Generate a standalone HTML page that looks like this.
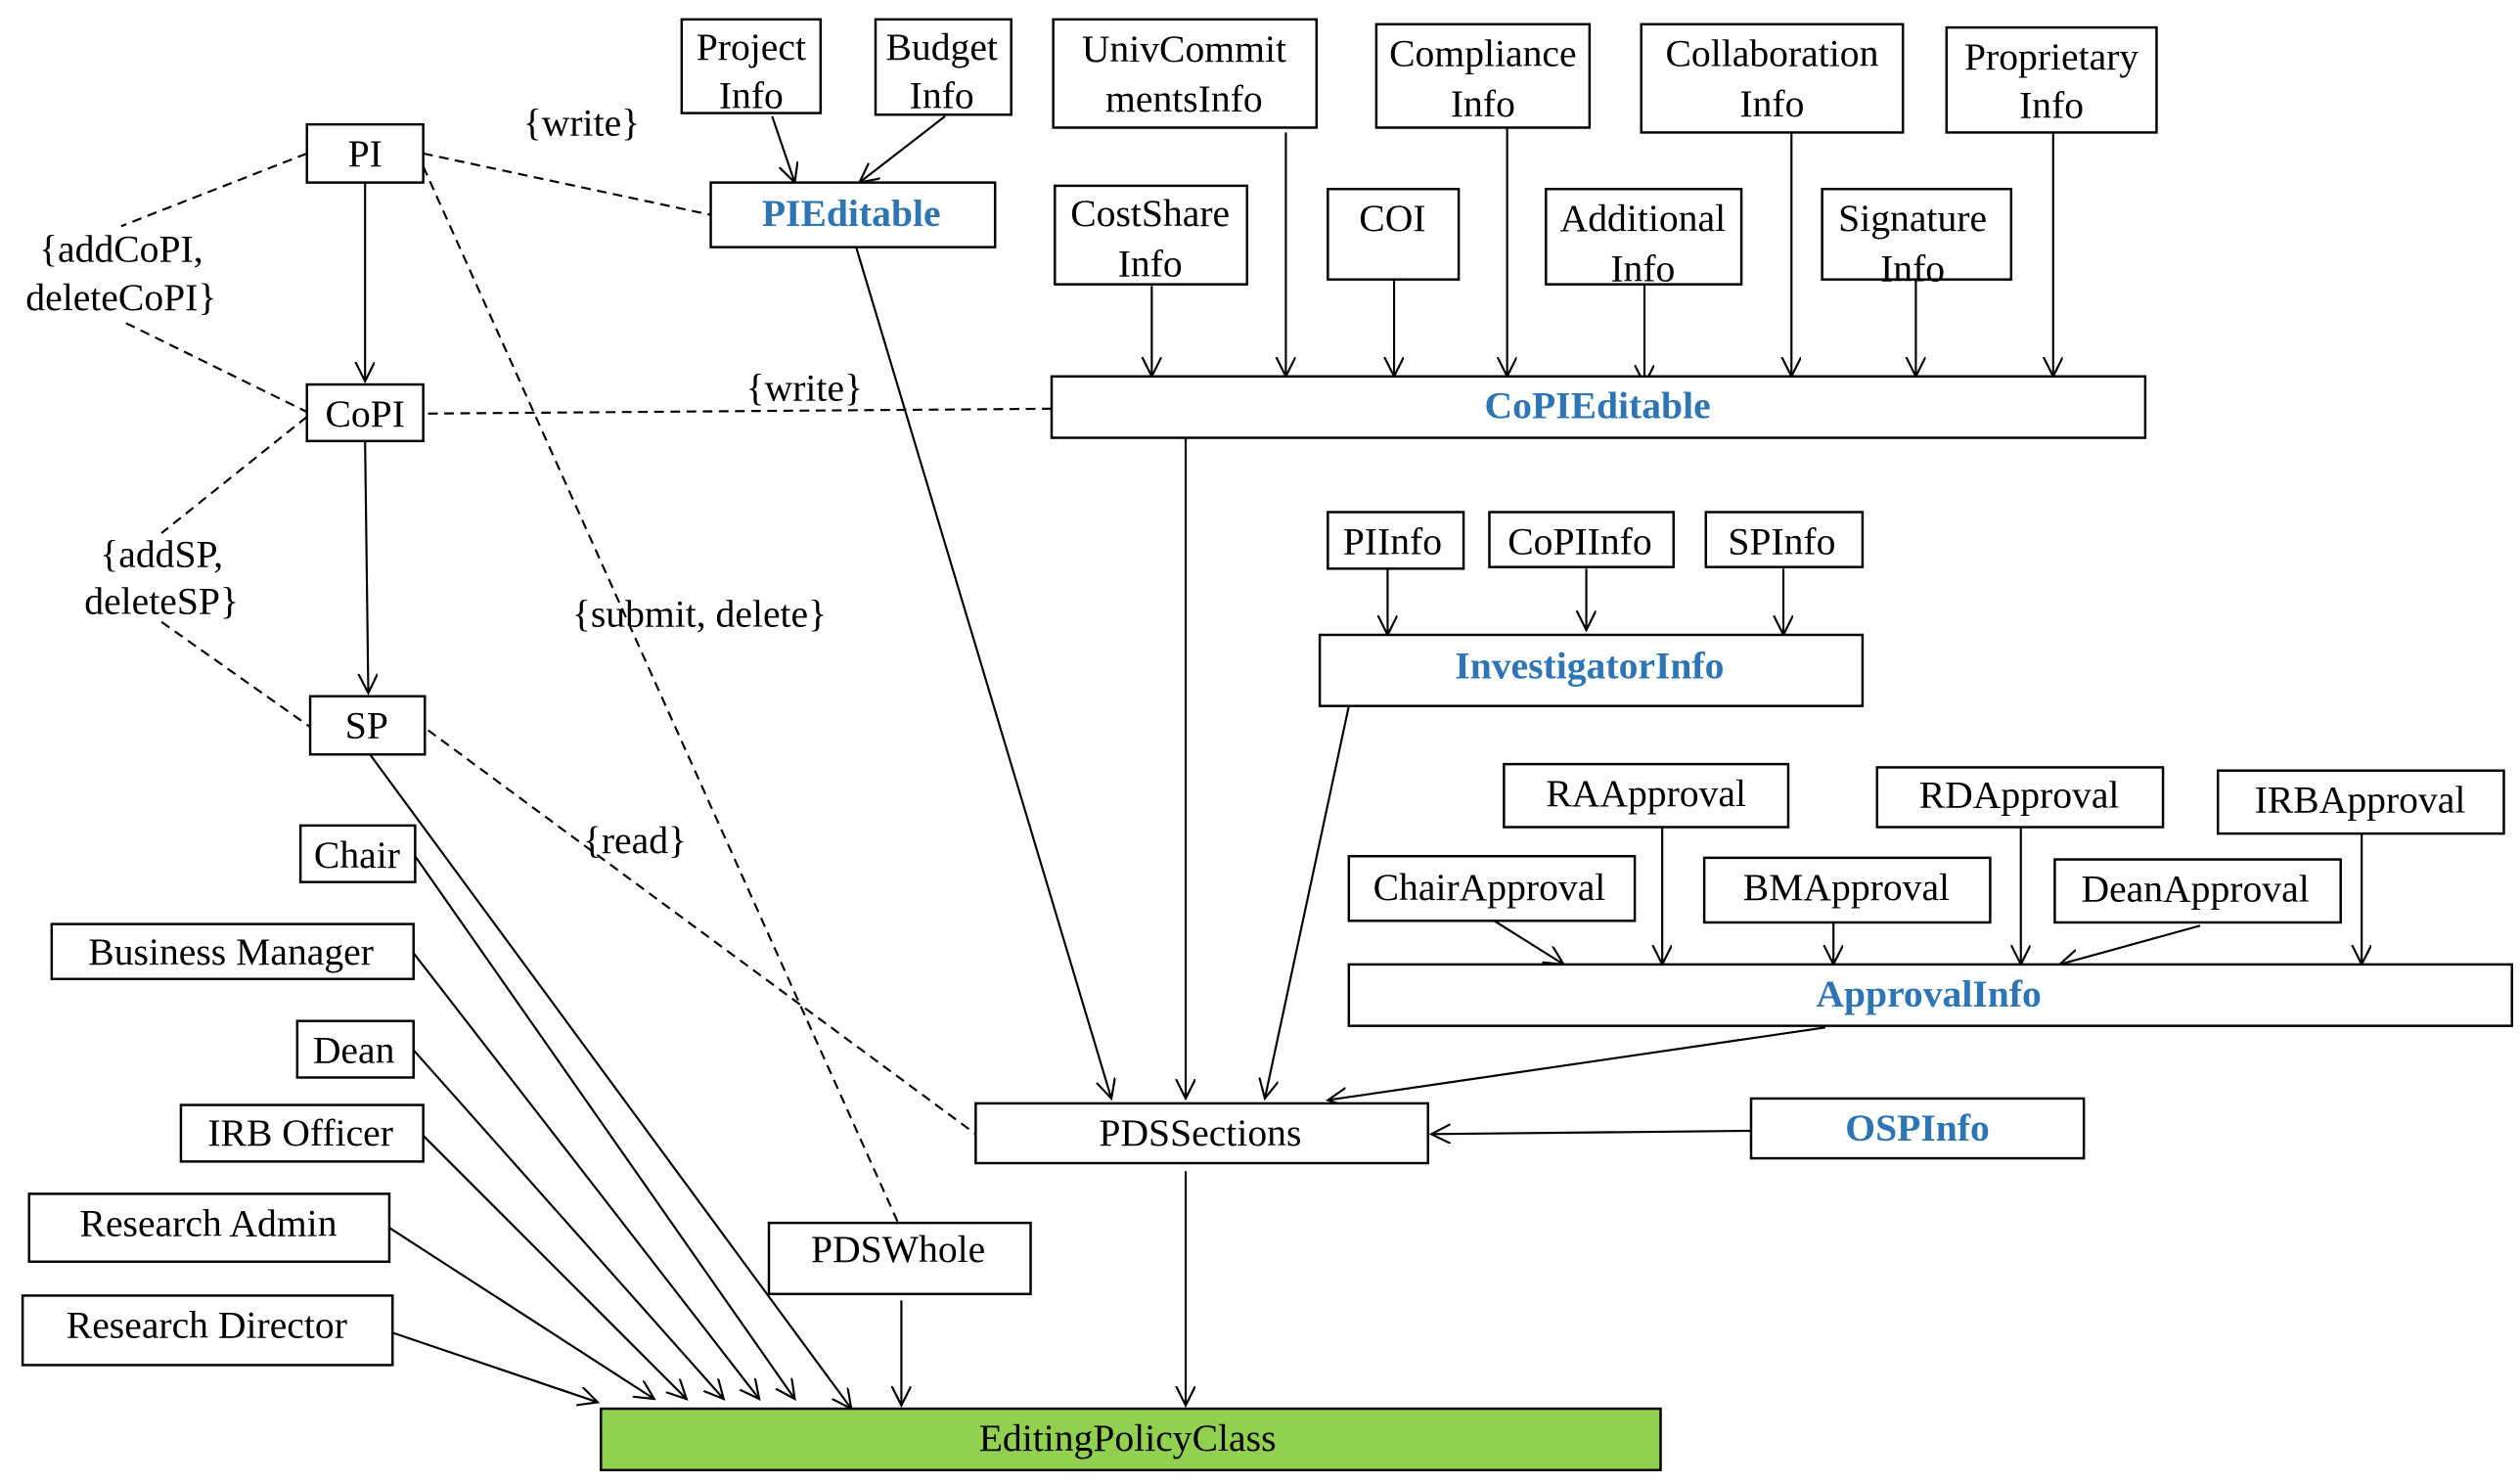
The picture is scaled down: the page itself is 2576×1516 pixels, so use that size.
<!DOCTYPE html>
<html><head><meta charset="utf-8"><style>
html,body{margin:0;padding:0;background:#fff;}
svg{display:block;}
text{font-family:"Liberation Serif",serif;font-size:24px;fill:#000;}
.b{fill:#2e75b6;font-weight:bold;}
rect{fill:#fff;stroke:#000;stroke-width:1.5;}
line{stroke:#000;stroke-width:1.3;}
.d{stroke-dasharray:6,4;}
</style></head><body>
<svg width="2576" height="1516" viewBox="0 0 1560 918" preserveAspectRatio="none" xmlns="http://www.w3.org/2000/svg">
<defs><marker id="a" markerWidth="14" markerHeight="14" refX="12" refY="6" orient="auto" markerUnits="userSpaceOnUse"><path d="M0,0 L12,6 L0,12" fill="none" stroke="#000" stroke-width="1.3"/></marker></defs>

<!-- lines -->
<g>
<line x1="226" y1="113" x2="226" y2="236" marker-end="url(#a)"/>
<line x1="226" y1="273" x2="228" y2="429" marker-end="url(#a)"/>
<line class="d" x1="190" y1="95" x2="75" y2="140"/>
<line class="d" x1="78" y1="200" x2="190" y2="255"/>
<line class="d" x1="190" y1="258" x2="100" y2="330"/>
<line class="d" x1="100" y1="385" x2="192" y2="450"/>
<line class="d" x1="262" y1="95" x2="440" y2="133"/>
<line class="d" x1="262" y1="103" x2="556" y2="757"/>
<line class="d" x1="265" y1="256" x2="651" y2="253"/>
<line class="d" x1="265" y1="452" x2="604" y2="702"/>
<line x1="530" y1="153" x2="688" y2="680" marker-end="url(#a)"/>
<line x1="734" y1="271" x2="734" y2="680" marker-end="url(#a)"/>
<line x1="835" y1="437" x2="783" y2="680" marker-end="url(#a)"/>
<line x1="1130" y1="636" x2="822" y2="681" marker-end="url(#a)"/>
<line x1="1084" y1="700" x2="886" y2="702" marker-end="url(#a)"/>
<line x1="734" y1="725" x2="734" y2="870" marker-end="url(#a)"/>
<line x1="558" y1="805" x2="558" y2="870" marker-end="url(#a)"/>
<line x1="243" y1="825" x2="370" y2="868" marker-end="url(#a)"/>
<line x1="241" y1="760" x2="405" y2="866" marker-end="url(#a)"/>
<line x1="262" y1="703" x2="425" y2="866" marker-end="url(#a)"/>
<line x1="256" y1="650" x2="448" y2="866" marker-end="url(#a)"/>
<line x1="256" y1="590" x2="470" y2="866" marker-end="url(#a)"/>
<line x1="257" y1="530" x2="492" y2="866" marker-end="url(#a)"/>
<line x1="229" y1="467" x2="527" y2="872" marker-end="url(#a)"/>
<line x1="478" y1="72" x2="492" y2="113" marker-end="url(#a)"/>
<line x1="585" y1="72" x2="532" y2="113" marker-end="url(#a)"/>
<line x1="713" y1="177" x2="713" y2="233" marker-end="url(#a)"/>
<line x1="796" y1="82" x2="796" y2="233" marker-end="url(#a)"/>
<line x1="863" y1="173" x2="863" y2="233" marker-end="url(#a)"/>
<line x1="933" y1="79" x2="933" y2="233" marker-end="url(#a)"/>
<line x1="1018" y1="176" x2="1018" y2="238" marker-end="url(#a)"/>
<line x1="1109" y1="82" x2="1109" y2="233" marker-end="url(#a)"/>
<line x1="1186" y1="173" x2="1186" y2="233" marker-end="url(#a)"/>
<line x1="1271" y1="82" x2="1271" y2="233" marker-end="url(#a)"/>
<line x1="859" y1="352" x2="859" y2="393" marker-end="url(#a)"/>
<line x1="982" y1="352" x2="982" y2="390" marker-end="url(#a)"/>
<line x1="1104" y1="352" x2="1104" y2="393" marker-end="url(#a)"/>
<line x1="925" y1="570" x2="968" y2="597" marker-end="url(#a)"/>
<line x1="1029" y1="512" x2="1029" y2="597" marker-end="url(#a)"/>
<line x1="1135" y1="571" x2="1135" y2="597" marker-end="url(#a)"/>
<line x1="1251" y1="512" x2="1251" y2="597" marker-end="url(#a)"/>
<line x1="1362" y1="573" x2="1275" y2="597" marker-end="url(#a)"/>
<line x1="1462" y1="516" x2="1462" y2="597" marker-end="url(#a)"/>
</g>

<!-- labels -->
<g text-anchor="middle">
<text x="75" y="162">{addCoPI,</text><text x="75" y="192">deleteCoPI}</text>
<text x="100" y="351">{addSP,</text><text x="100" y="380">deleteSP}</text>
<text x="360" y="84">{write}</text>
<text x="498" y="248">{write}</text>
<text x="433" y="388">{submit, delete}</text>
<text x="393" y="528">{read}</text>
</g>

<!-- boxes -->
<g>
<rect x="190" y="77" width="72" height="36"/>
<rect x="190" y="238" width="72" height="35"/>
<rect x="192" y="431" width="71" height="36"/>
<rect x="440" y="113" width="176" height="40"/>
<rect x="422" y="12" width="86" height="58"/>
<rect x="542" y="12" width="84" height="59"/>
<rect x="652" y="12" width="163" height="67"/>
<rect x="852" y="15" width="132" height="64"/>
<rect x="1016" y="15" width="162" height="67"/>
<rect x="1205" y="17" width="130" height="65"/>
<rect x="653" y="115" width="119" height="61"/>
<rect x="822" y="117" width="81" height="56"/>
<rect x="957" y="117" width="121" height="59"/>
<rect x="1128" y="117" width="117" height="56"/>
<rect x="651" y="233" width="677" height="38"/>
<rect x="822" y="317" width="84" height="35"/>
<rect x="922" y="317" width="114" height="34"/>
<rect x="1056" y="317" width="97" height="34"/>
<rect x="817" y="393" width="336" height="44"/>
<rect x="931" y="473" width="176" height="39"/>
<rect x="1162" y="475" width="177" height="37"/>
<rect x="1373" y="477" width="177" height="39"/>
<rect x="835" y="530" width="177" height="40"/>
<rect x="1055" y="531" width="177" height="40"/>
<rect x="1272" y="532" width="177" height="39"/>
<rect x="835" y="597" width="720" height="38"/>
<rect x="604" y="683" width="280" height="37"/>
<rect x="1084" y="680" width="206" height="37"/>
<rect x="476" y="757" width="162" height="44"/>
<rect x="372" y="872" width="656" height="38" style="fill:#92d050"/>
<rect x="186" y="511" width="71" height="35"/>
<rect x="32" y="572" width="224" height="34"/>
<rect x="184" y="632" width="72" height="35"/>
<rect x="112" y="684" width="150" height="35"/>
<rect x="18" y="739" width="223" height="42"/>
<rect x="14" y="802" width="229" height="43"/>
</g>

<g text-anchor="middle">
<text x="226" y="103">PI</text>
<text x="226" y="264">CoPI</text>
<text x="227" y="457">SP</text>
<text class="b" x="527" y="140">PIEditable</text>
<text x="465" y="37">Project</text><text x="465" y="67">Info</text>
<text x="583" y="37">Budget</text><text x="583" y="67">Info</text>
<text x="733" y="38">UnivCommit</text><text x="733" y="69">mentsInfo</text>
<text x="918" y="41">Compliance</text><text x="918" y="72">Info</text>
<text x="1097" y="41">Collaboration</text><text x="1097" y="72">Info</text>
<text x="1270" y="43">Proprietary</text><text x="1270" y="73">Info</text>
<text x="712" y="140">CostShare</text><text x="712" y="171">Info</text>
<text x="862" y="143">COI</text>
<text x="1017" y="143">Additional</text><text x="1017" y="174">Info</text>
<text x="1184" y="143">Signature</text><text x="1184" y="174">Info</text>
<text class="b" x="989" y="259">CoPIEditable</text>
<text x="862" y="343">PIInfo</text>
<text x="978" y="343">CoPIInfo</text>
<text x="1103" y="343">SPInfo</text>
<text class="b" x="984" y="420">InvestigatorInfo</text>
<text x="1019" y="499">RAApproval</text>
<text x="1250" y="500">RDApproval</text>
<text x="1461" y="503">IRBApproval</text>
<text x="922" y="557">ChairApproval</text>
<text x="1143" y="557">BMApproval</text>
<text x="1359" y="558">DeanApproval</text>
<text class="b" x="1194" y="623">ApprovalInfo</text>
<text x="743" y="709">PDSSections</text>
<text class="b" x="1187" y="706">OSPInfo</text>
<text x="556" y="781">PDSWhole</text>
<text x="698" y="898">EditingPolicyClass</text>
<text x="221" y="537">Chair</text>
<text x="143" y="597">Business Manager</text>
<text x="219" y="658">Dean</text>
<text x="186" y="709">IRB Officer</text>
<text x="129" y="765">Research Admin</text>
<text x="128" y="828">Research Director</text>
</g>
</svg>
</body></html>
